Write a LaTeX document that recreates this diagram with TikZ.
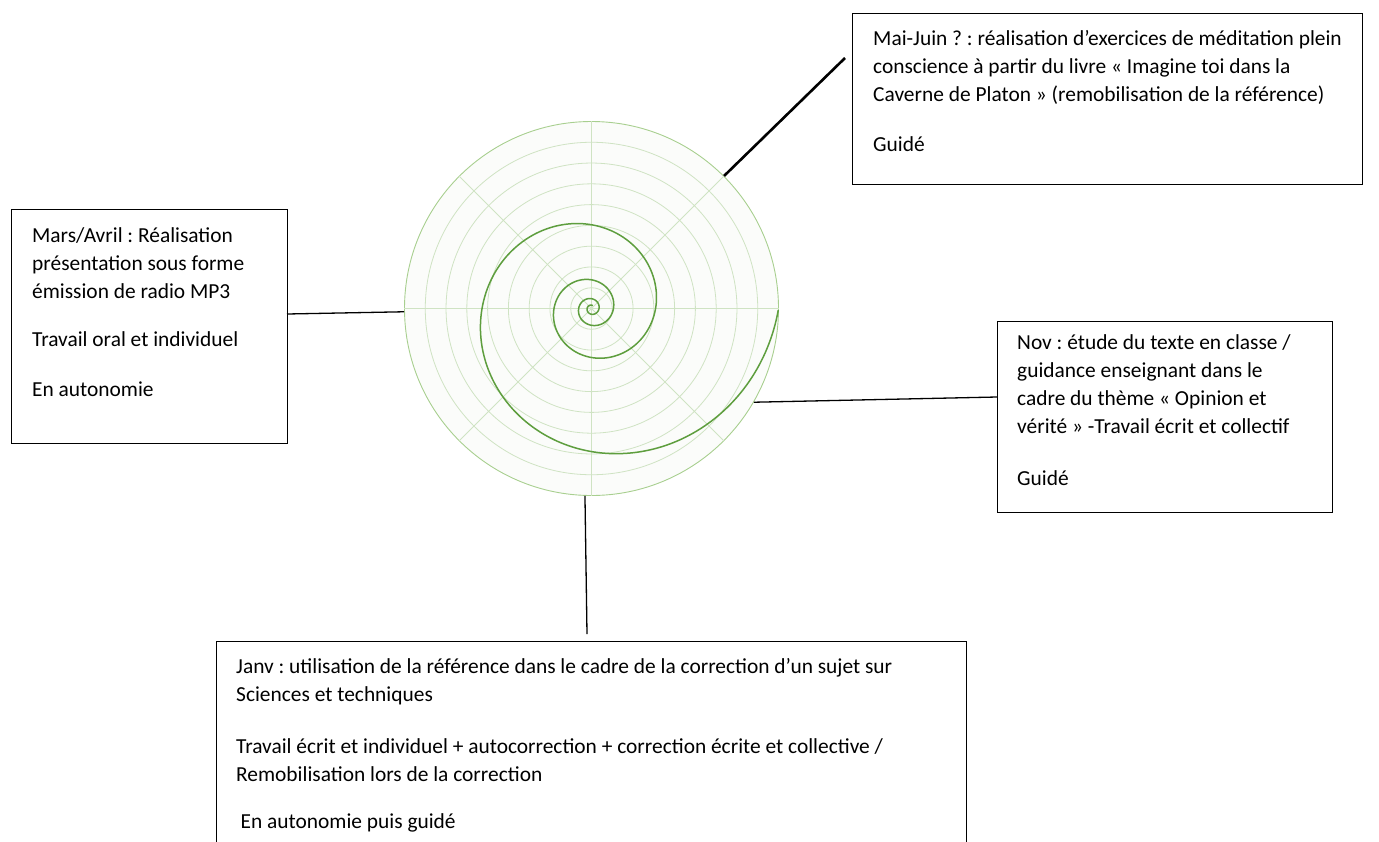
\documentclass[tikz,border=0pt]{standalone}
\usepackage{fontspec}
\setmainfont{Carlito}
\frenchspacing
\definecolor{wheelfill}{HTML}{FBFCFA}
\definecolor{ringcol}{HTML}{CFE3C3}
\definecolor{outercol}{HTML}{A8CF8F}
\definecolor{spiralcol}{HTML}{5E9E3E}
\begin{document}
\begin{tikzpicture}[x=1pt,y=-1pt,
  frame/.style={draw=black, line width=1.2pt, inner sep=0pt, anchor=north west, rectangle},
  boxtext/.style={anchor=north west, align=left, inner sep=0pt, font=\fontsize{21.4}{28}\selectfont},
  ring/.style={draw=ringcol, line width=0.8pt},
  link/.style={draw=black, line width=1.3pt},
  boldlink/.style={draw=black, line width=2.6pt},
  spiralline/.style={draw=spiralcol, line width=1.5pt}]
\useasboundingbox (0,0) rectangle (1379,841);
\clip (0,0) rectangle (1379,841);

% wheel
\node[circle, draw=outercol, fill=wheelfill, line width=0.9pt, minimum size=374pt, inner sep=0pt] (wheel) at (591.5,308.5) {};
\foreach \k in {1,...,8} \draw[ring] (wheel.center) circle[radius=\k*20.78];
\foreach \a in {0,45,...,315} \draw[ring] (wheel.center) -- (wheel.\a);
\draw[spiralline] plot[domain=-24:0, samples=900, smooth]
  ({591.5+187*exp(0.1705*\x)*cos(deg(\x))}, {308.5-187*exp(0.1705*\x)*sin(deg(\x))});

% boxes
\node[frame, minimum width=510pt, minimum height=171pt] (mai) at (852,13) {};
\node[frame, minimum width=276pt, minimum height=234pt] (mars) at (11,209) {};
\node[frame, minimum width=335pt, minimum height=191pt] (nov) at (997,321) {};
\node[frame, minimum width=750pt, minimum height=240pt] (janv) at (216,641) {};

% texts (first baseline = y + 19.6)
\node[boxtext] (maitext) at (873,25.4) {\strut Mai-Juin ? : réalisation d’exercices de méditation plein\\
conscience à partir du livre « Imagine toi dans la\\
Caverne de Platon » (remobilisation de la référence)\\[22pt]
Guidé};
\node[boxtext] (marstext) at (32,222.4) {\strut Mars/Avril : Réalisation\\
présentation sous forme\\
émission de radio MP3\\[20pt]
Travail oral et individuel\\[22pt]
En autonomie};
\node[boxtext] (novtext) at (1017,329.4) {\strut Nov : étude du texte en classe /\\
guidance enseignant dans le\\
cadre du thème « Opinion et\\
vérité » -Travail écrit et collectif\\[24pt]
Guidé};
\node[boxtext] (janvtext) at (236,653.4) {\strut Janv : utilisation de la référence dans le cadre de la correction d’un sujet sur\\
Sciences et techniques\\[24pt]
Travail écrit et individuel + autocorrection + correction écrite et collective /\\
Remobilisation lors de la correction\\[19pt]
\hspace*{4.5pt}En autonomie puis guidé};

% connectors
\coordinate (maiend) at (845,58);
\coordinate (marsjoin) at (287,314);
\coordinate (novjoin) at (997,397);
\coordinate (janvend) at (587,634);
\draw[boldlink] (wheel.45) -- (maiend);
\draw[link] (wheel.181) -- (marsjoin);
\draw[link] (wheel.-30) -- (novjoin);
\draw[link] (wheel.-92.6) -- (janvend);
\end{tikzpicture}
\end{document}
